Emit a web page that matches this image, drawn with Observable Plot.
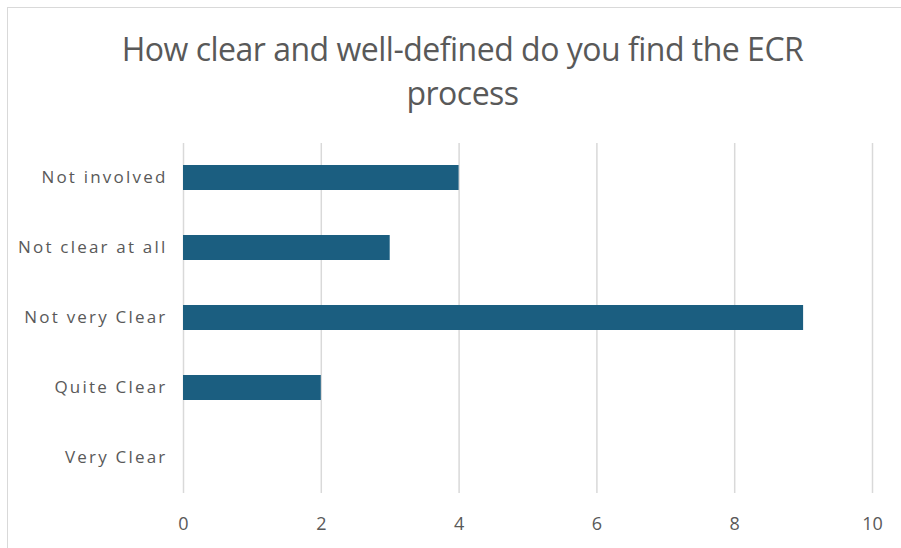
<!DOCTYPE html>
<html>
<head>
<meta charset="utf-8">
<script src="https://cdn.jsdelivr.net/npm/d3@7"></script>
<script src="https://cdn.jsdelivr.net/npm/@observablehq/plot@0.6"></script>
<style>
  body { margin: 0; background: #fff; }
  #wrap { position: relative; width: 901px; height: 548px; overflow: hidden; }
  #frame { position: absolute; left: 7px; top: 7px; width: 910px; height: 560px; border: 1.5px solid #d9d9d9; box-sizing: border-box; }
  #title { position: absolute; left: 0; top: 0; width: 925px; height: 135px; text-align: center; font-family: "Open Sans", sans-serif; font-size: 32px; line-height: 44px; color: #595959; padding-top: 27px; box-sizing: border-box; letter-spacing: -0.5px; }
  #chart { position: absolute; left: 0; top: 135px; }
</style>
</head>
<body>
<div id="wrap">
  <div id="frame"></div>
  <div id="title">How clear and well-defined do you find the ECR<br>process</div>
  <div id="chart"></div>
</div>
<script>
const categories = ["Not involved", "Not clear at all", "Not very Clear", "Quite Clear", "Very Clear"];
const values = [4, 3, 9, 2, 0];
const xTicks = [0, 2, 4, 6, 8, 10];

const data = categories.map((c, i) => ({category: c, value: values[i]}));

const chart = Plot.plot({
  width: 901,
  height: 413,
  marginTop: 8,
  marginBottom: 55,
  marginLeft: 183,
  marginRight: 29,
  style: {fontFamily: "'Open Sans', sans-serif", fontSize: "17px", color: "#595959", background: "transparent"},
  x: {domain: [0, 10], ticks: xTicks, label: null, tickSize: 0, tickPadding: 24},
  y: {domain: categories, label: null, tickSize: 0, tickPadding: 16, paddingInner: 0.64, paddingOuter: 0.32},
  marks: [
    Plot.ruleX(xTicks, {stroke: "#d9d9d9", strokeWidth: 1.5, strokeOpacity: 1}),
    Plot.barX(data, {x: "value", y: "category", fill: "#1b5e80"})
  ]
});
document.getElementById("chart").appendChild(chart);
d3.select(chart).selectAll("[aria-label='y-axis tick label'] text").style("letter-spacing", "2.2px");
d3.select(chart).selectAll("[aria-label='x-axis tick label'] text").style("font-size", "18px");
</script>
</body>
</html>
